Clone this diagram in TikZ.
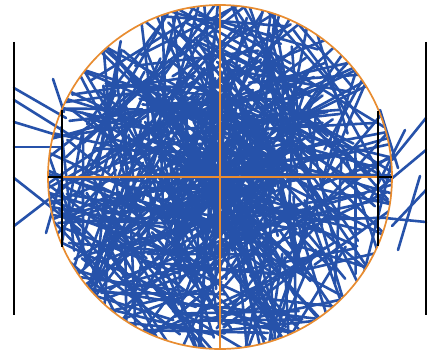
\documentclass[tikz,border=0pt]{standalone}
\definecolor{needleblue}{RGB}{38,82,170}
\definecolor{rimorange}{RGB}{232,140,48}
\tikzset{
  needle/.style={needleblue, line width=2.6pt, line cap=round},
  rim/.style={rimorange, line width=1.7pt},
  wall/.style={black, line width=1.8pt}
}
\begin{document}
\begin{tikzpicture}[x=1pt,y=-1pt]
\useasboundingbox[fill=white] (0,0) rectangle (430,350);
% needles inside the disk
\begin{scope}
\clip (220,177) circle (172pt);
\pgfmathsetseed{2718}
\foreach \i in {1,...,540}{
  \pgfmathsetmacro\rr{165*(rnd^0.75)}
  \pgfmathsetmacro\th{360*rnd}
  \pgfmathsetmacro\ph{180*rnd}
  \pgfmathsetmacro\cx{220+\rr*cos(\th)}
  \pgfmathsetmacro\cy{177+\rr*sin(\th)}
  \pgfmathsetmacro\dx{62*cos(\ph)}
  \pgfmathsetmacro\dy{62*sin(\ph)}
  \draw[needle] (\cx-\dx,\cy-\dy) -- (\cx+\dx,\cy+\dy);
}
\end{scope}
% needles reaching out on the left
\draw[needle] (14,88) -- (66,118);
\draw[needle] (14,100) -- (70,135);
\draw[needle] (14,122) -- (60,136);
\draw[needle] (14,147) -- (62,147);
\draw[needle] (53,79) -- (64,112);
\draw[needle] (14,178) -- (80,230);
\draw[needle] (14,226) -- (66,186);
\draw[needle] (46,233) -- (60,184);
% needles reaching out on the right
\draw[needle] (426,118) -- (392,160);
\draw[needle] (380,110) -- (398,168);
\draw[needle] (426,150) -- (378,190);
\draw[needle] (426,190) -- (392,226);
\draw[needle] (426,222) -- (385,218);
\draw[needle] (405,130) -- (370,200);
\draw[needle] (398,250) -- (420,176);
% orange circle and cross
\draw[rim] (220,177) circle (172pt);
\draw[rim] (48,177) -- (392,177);
\draw[rim] (220,5) -- (220,349);
% black walls
\draw[wall] (14,42) -- (14,315);
\draw[wall] (426,42) -- (426,315);
\draw[wall] (62,110) -- (62,247);
\draw[wall] (378,111) -- (378,246);
\draw[wall] (48,177) -- (62,177);
\draw[wall] (378,177) -- (392,177);
\end{tikzpicture}
\end{document}
